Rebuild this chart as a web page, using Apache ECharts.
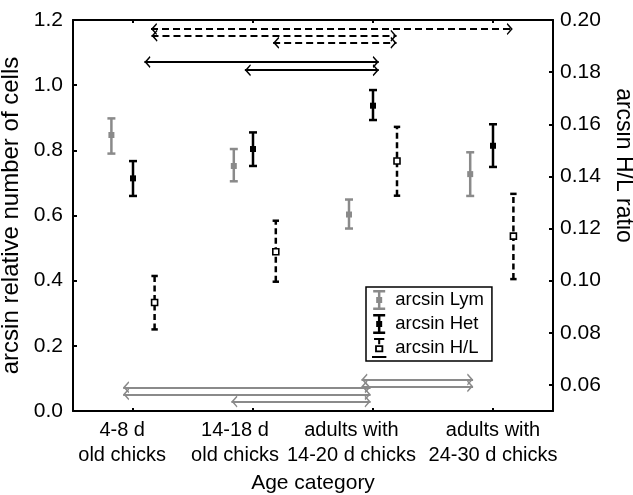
<!DOCTYPE html>
<html>
<head>
<meta charset="utf-8">
<script src="https://cdn.jsdelivr.net/npm/echarts@6/dist/echarts.min.js"></script>
<style>
  html, body { margin: 0; padding: 0; background: #fff; }
  #main { width: 633px; height: 495px; }
</style>
</head>
<body>
<div id="main"></div>
<script>
// categories (x = 1..4), labels sit a little left of the ticks like in the figure
var categories = ['4-8 d\nold chicks', '14-18 d\nold chicks', 'adults with\n14-20 d chicks', 'adults with\n24-30 d chicks'];
var categoryTicks = [1, 2, 3, 4];
var categoryLabelPos = [0.91, 1.85, 2.82, 4.0];
var rightTicks = [0.06, 0.08, 0.10, 0.12, 0.14, 0.16, 0.18, 0.20];

// arcsin Lym (left axis)
var lymX = [0.82, 1.84, 2.80, 3.81];
var lymMean = [0.847, 0.752, 0.603, 0.727];
var lymLow = [0.790, 0.705, 0.560, 0.660];
var lymHigh = [0.898, 0.804, 0.649, 0.794];

// arcsin Het (left axis)
var hetX = [1.0, 2.0, 3.0, 4.0];
var hetMean = [0.714, 0.804, 0.937, 0.814];
var hetLow = [0.660, 0.752, 0.893, 0.749];
var hetHigh = [0.767, 0.855, 0.985, 0.880];

// arcsin H/L (right axis)
var hlX = [1.18, 2.19, 3.20, 4.17];
var hlMean = [0.0916, 0.1111, 0.1459, 0.1171];
var hlLow = [0.0813, 0.0996, 0.1326, 0.1006];
var hlHigh = [0.1018, 0.1230, 0.1590, 0.1333];

// significance arrows: [x start, x end, y] on the left axis
var hlArrows = [[1.15, 4.165, 1.172], [1.154, 3.196, 1.152], [2.168, 3.196, 1.130]];
var hetArrows = [[1.095, 3.048, 1.071], [1.932, 3.048, 1.046]];
var lymArrows = [[0.918, 2.98, 0.0728], [0.918, 2.98, 0.0513], [1.82, 2.98, 0.0289],
                 [2.904, 3.834, 0.0964], [2.904, 3.834, 0.0758]];

var font = 'Liberation Sans, Arial, sans-serif';
var grey = '#8a8a8a';
// chevron with its tip at the symbol centre
var chevron = 'path://M4.99,0 L5.01,0 L5,0.02 Z M5,10 L10,19 L8.8,20 L5,13.5 L1.2,20 L0,19 Z';

var iconBar = 'path://M2,0 H14 V2.5 H9.25 V17.5 H14 V20 H2 V17.5 H6.75 V2.5 H2 Z M5,7 H11 V13 H5 Z';
var iconHL = 'path://M3,0 H13 V2 H3 Z M7,2 H9 V6 H7 Z M4,7 H12 V14 H4 Z M5.8,8.8 V12.2 H10.2 V8.8 Z M1,17.5 H15 V19.5 H1 Z';

function barRenderer(color, capHalf, dashed, filled) {
  return function (params, api) {
    var x = api.value(0);
    var lo = api.coord([x, api.value(1)]);
    var hi = api.coord([x, api.value(2)]);
    var mid = api.coord([x, api.value(3)]);
    return {
      type: 'group',
      children: [
        { type: 'line', shape: { x1: lo[0], y1: lo[1], x2: hi[0], y2: hi[1] },
          style: { stroke: color, lineWidth: 2.5, lineDash: dashed ? [6, 3.5] : null } },
        { type: 'line', shape: { x1: hi[0] - capHalf, y1: hi[1], x2: hi[0] + capHalf, y2: hi[1] },
          style: { stroke: color, lineWidth: 2.5 } },
        { type: 'line', shape: { x1: lo[0] - capHalf, y1: lo[1], x2: lo[0] + capHalf, y2: lo[1] },
          style: { stroke: color, lineWidth: 2.5 } },
        { type: 'rect', shape: { x: mid[0] - 3, y: mid[1] - 3, width: 6, height: 6 },
          style: filled ? { fill: color } : { fill: '#fff', stroke: color, lineWidth: 1.6 } }
      ]
    };
  };
}

function barData(xs, low, high, mean) {
  return xs.map(function (x, i) { return [x, low[i], high[i], mean[i]]; });
}

function arrowData(list) {
  return list.map(function (a) { return { coords: [[a[0], a[2]], [a[1], a[2]]] }; });
}

function arrowSeries(list, color, dashed) {
  return {
    type: 'lines',
    coordinateSystem: 'cartesian2d',
    xAxisIndex: 0,
    yAxisIndex: 0,
    symbol: [chevron, chevron],
    symbolSize: 12,
    silent: true,
    lineStyle: { color: color, width: 2, type: dashed ? [7, 4] : 'solid', opacity: 1 },
    data: arrowData(list)
  };
}

var chart = echarts.init(document.getElementById('main'));
var option = {
  animation: false,
  grid: { left: 73, right: 80, top: 20, bottom: 84, containLabel: false, outerBoundsMode: 'none' },
  legend: {
    orient: 'vertical',
    left: 366,
    top: 287,
    padding: [3, 8, 3, 6],
    itemGap: 4,
    itemWidth: 16,
    itemHeight: 20,
    borderColor: '#000',
    borderWidth: 1.5,
    backgroundColor: '#fff',
    selectedMode: false,
    textStyle: { fontFamily: font, fontSize: 18.5, color: '#000', padding: [0, 0, 0, 3] },
    data: [
      { name: 'arcsin Lym', icon: iconBar, itemStyle: { color: grey } },
      { name: 'arcsin Het', icon: iconBar, itemStyle: { color: '#000' } },
      { name: 'arcsin H/L', icon: iconHL, itemStyle: { color: '#000' } }
    ]
  },
  xAxis: [
    {
      type: 'value', min: 0.5, max: 4.5, position: 'bottom',
      splitLine: { show: false },
      axisLine: { lineStyle: { color: '#000', width: 2 } },
      axisTick: { inside: true, length: 3, customValues: categoryTicks, lineStyle: { width: 2 } },
      axisLabel: {
        customValues: categoryLabelPos,
        formatter: function (v) {
          for (var i = 0; i < categoryLabelPos.length; i++) {
            if (Math.abs(categoryLabelPos[i] - v) < 1e-6) return categories[i];
          }
          return '';
        },
        fontFamily: font, fontSize: 20, lineHeight: 25, margin: 7, color: '#000'
      },
      name: 'Age category', nameLocation: 'middle', nameGap: 61,
      nameTextStyle: { fontFamily: font, fontSize: 21, color: '#000' }
    },
    {
      type: 'value', min: 0.5, max: 4.5, position: 'top',
      splitLine: { show: false },
      axisLine: { lineStyle: { color: '#000', width: 2 } },
      axisTick: { inside: true, length: 3, customValues: categoryTicks, lineStyle: { width: 2 } },
      axisLabel: { show: false }
    }
  ],
  yAxis: [
    {
      type: 'value', min: 0, max: 1.2, interval: 0.2, position: 'left',
      splitLine: { show: false },
      axisLine: { show: true, lineStyle: { color: '#000', width: 2 } },
      axisTick: { show: true, inside: true, length: 4, lineStyle: { width: 2 } },
      axisLabel: {
        formatter: function (v) { return v.toFixed(1); },
        fontFamily: font, fontSize: 21, margin: 10, color: '#000'
      },
      name: 'arcsin relative number of cells', nameLocation: 'middle', nameGap: 40,
      nameTextStyle: { fontFamily: font, fontSize: 24, color: '#000' }
    },
    {
      type: 'value', min: 0.05, max: 0.2, position: 'right',
      splitLine: { show: false },
      axisLine: { show: true, lineStyle: { color: '#000', width: 2 } },
      axisTick: { show: true, inside: true, length: 4, customValues: rightTicks, lineStyle: { width: 2 } },
      axisLabel: {
        customValues: rightTicks,
        formatter: function (v) { return v.toFixed(2); },
        fontFamily: font, fontSize: 21, margin: 7, color: '#000'
      },
      name: 'arcsin H/L ratio', nameLocation: 'middle', nameGap: 51, nameRotate: -90,
      nameTextStyle: { fontFamily: font, fontSize: 23, color: '#000', padding: [0, 100, 0, 0] }
    }
  ],
  series: [
    arrowSeries(hlArrows, '#000', true),
    arrowSeries(hetArrows, '#000', false),
    arrowSeries(lymArrows, grey, false),
    {
      name: 'arcsin Lym', type: 'custom', xAxisIndex: 0, yAxisIndex: 0,
      itemStyle: { color: grey },
      renderItem: barRenderer(grey, 4, false, true),
      encode: { x: 0, y: [1, 2, 3] },
      data: barData(lymX, lymLow, lymHigh, lymMean)
    },
    {
      name: 'arcsin Het', type: 'custom', xAxisIndex: 0, yAxisIndex: 0,
      itemStyle: { color: '#000' },
      renderItem: barRenderer('#000', 4, false, true),
      encode: { x: 0, y: [1, 2, 3] },
      data: barData(hetX, hetLow, hetHigh, hetMean)
    },
    {
      name: 'arcsin H/L', type: 'custom', xAxisIndex: 0, yAxisIndex: 1,
      itemStyle: { color: '#000' },
      renderItem: barRenderer('#000', 3.2, true, false),
      encode: { x: 0, y: [1, 2, 3] },
      data: barData(hlX, hlLow, hlHigh, hlMean)
    }
  ]
};
chart.setOption(option);
</script>
</body>
</html>
